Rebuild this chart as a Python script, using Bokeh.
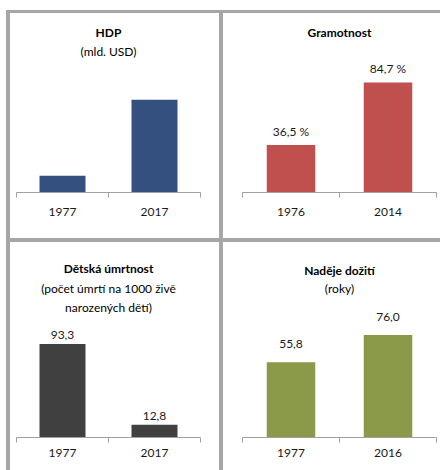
from bokeh.plotting import figure
from bokeh.models import (FactorRange, Range1d, LinearAxis, FixedTicker, Title,
                          LabelSet, ColumnDataSource, Spacer)
from bokeh.layouts import row, column
from bokeh.core.properties import value
from bokeh.embed import file_html
from bokeh.resources import INLINE

# ---- data ----
hdp_years = ["1977", "2017"]
hdp_values = [80.6, 444.0]          # mld. USD (no labels shown)

lit_years = ["1976", "2014"]
lit_values = [36.5, 84.7]           # %

mort_years = ["1977", "2017"]
mort_values = [93.3, 12.8]          # per 1000 live births

life_years = ["1977", "2016"]
life_values = [55.8, 76.0]          # years

FONT = "Lato"
FS = "12px"
GRAY = "#a6a6a6"
AXIS_GRAY = "#a0a0a0"


def fmt(v, suffix=""):
    return f"{v:.1f}".replace(".", ",") + suffix


def panel(years, values, color, titles, standoffs, width, height, y_end,
          mb_left, mb_right, mb_bottom,
          suffix=None, label_offset=6, label_standoff=10):
    p = figure(width=width, height=height,
               x_range=FactorRange(factors=years), y_range=Range1d(0, y_end),
               x_axis_type=None, y_axis_type=None,
               output_backend="svg", toolbar_location=None, title=None,
               min_border_left=mb_left, min_border_right=mb_right,
               min_border_top=0, min_border_bottom=mb_bottom,
               background_fill_color="white", border_fill_color="white")
    p.outline_line_color = None

    p.vbar(x=years, top=values, width=0.5, fill_color=color, line_color=None)

    ticks = [i + 0.5 for i in range(len(years))]
    axis = LinearAxis(
        ticker=FixedTicker(ticks=ticks, minor_ticks=list(range(len(years) + 1))),
        major_label_overrides={t: y for t, y in zip(ticks, years)},
        axis_line_color=AXIS_GRAY, axis_line_width=1,
        major_tick_line_color=None, major_tick_in=0, major_tick_out=5,
        minor_tick_line_color=AXIS_GRAY, minor_tick_in=0, minor_tick_out=5,
        major_label_standoff=label_standoff,
        major_label_text_font=FONT, major_label_text_font_size=FS,
        major_label_text_color="#1a1a1a",
    )
    p.add_layout(axis, "below")

    if suffix is not None:
        src = ColumnDataSource(dict(x=years, y=values,
                                    t=[fmt(v, suffix) for v in values]))
        p.add_layout(LabelSet(x="x", y="y", text="t", source=src,
                              text_align="center", text_baseline="alphabetic",
                              y_offset=label_offset, text_font=value(FONT),
                              text_font_size=FS, text_color="#1a1a1a"))

    # titles: first added is closest to the plot
    n = len(titles)
    for i in range(n - 1, -1, -1):
        p.add_layout(Title(text=titles[i], align="center",
                           vertical_align="middle", standoff=standoffs[i],
                           text_font=FONT, text_font_size=FS,
                           text_font_style="bold" if i == 0 else "normal",
                           text_color="#000000"), "above")
    return p


def bar(w, h):
    return Spacer(width=w, height=h, styles={"background-color": GRAY})


def gap(w, h):
    return Spacer(width=w, height=h)


def cell(fig, w, h, top_gap):
    if top_gap <= 0:
        return fig
    return column(gap(w, top_gap), fig)


W1, W2 = 209, 217
H1, H2 = 225, 228

p1 = panel(hdp_years, hdp_values, "#34507f", ["HDP", "(mld. USD)"], [2, 3],
           W1, H1 - 9, 627.4, 6, 19, 46)
p2 = panel(lit_years, lit_values, "#c0504d", ["Gramotnost"], [20],
           W2, H1, 109.3, 19, 4, 46,
           suffix=" %", label_offset=9)
p3 = panel(mort_years, mort_values, "#404040",
           ["Dětská úmrtnost", "(počet úmrtí na 1000 živě", "narozených dětí)"],
           [3, 2, 2],
           W1, H2 - 16, 120.8, 6, 19, 33,
           suffix="", label_offset=5, label_standoff=6)
p4 = panel(life_years, life_values, "#8a9a48", ["Naděje dožití", "(roky)"], [0, 3],
           W2, H2 - 19, 103.1, 19, 4, 33,
           suffix="", label_offset=14, label_standoff=6)

layout = column(
    gap(440, 10),
    row(gap(6, 3), bar(434, 3)),
    row(gap(6, H1), bar(4, H1), cell(p1, W1, H1, 9), bar(4, H1), cell(p2, W2, H1, 0)),
    row(gap(6, 4), bar(434, 4)),
    row(gap(6, H2), bar(4, H2), cell(p3, W1, H2, 16), bar(4, H2), cell(p4, W2, H2, 19)),
)

open("out.html", "w").write(file_html(layout, INLINE))
